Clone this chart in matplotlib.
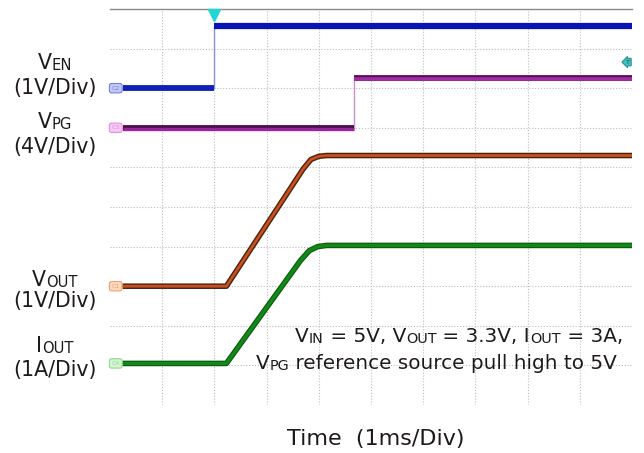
import numpy as np
import matplotlib
matplotlib.use('Agg')
import matplotlib.pyplot as plt
from matplotlib.transforms import IdentityTransform

# scope data (time in ms, trigger at 0)
en_t = [-1.76, 0.0, 0.0, 8.0]
en_v = [0.0, 0.0, 1.58, 1.58]
pg_t = [-1.76, 2.68, 2.68, 8.0]
pg_v = [0.0, 0.0, 5.0, 5.0]
vout_t = [-1.76, 0.23, 1.70, 1.85, 2.0, 2.15, 8.0]
vout_v = [0.0, 0.0, 2.96, 3.2, 3.28, 3.3, 3.3]
iout_t = [-1.76, 0.23, 1.65, 1.82, 1.98, 2.15, 8.0]
iout_v = [0.0, 0.0, 2.6, 2.85, 2.95, 2.98, 2.98]

# channel settings: volts (or amps) per div, ground position in div
en_scale, en_gnd = 1.0, 8.0
pg_scale, pg_gnd = 4.0, 7.0
vout_scale, vout_gnd = 1.0, 3.0
iout_scale, iout_gnd = 1.0, 1.05
trig_level = 0.66

TXT = '#1e1a1b'
W, H = 644, 453

fig = plt.figure(figsize=(W / 100, H / 100), dpi=100)
ax = fig.add_axes([110 / W, (H - 405) / H, 522 / W, 396 / H])
ax.set_xlim(-2, 8)
ax.set_ylim(0, 10)
ax.set_xticks(np.arange(-1, 8))
ax.set_yticks(np.arange(1, 10))
ax.tick_params(length=0, labelbottom=False, labelleft=False)
ax.grid(True, color='#bcbcbc', lw=0.8, ls=(0, (1, 1.6)))
for s in ['left', 'right', 'bottom']:
    ax.spines[s].set_visible(False)
ax.spines['top'].set_color('#8a8a8a')
ax.spines['top'].set_linewidth(1.0)


def div(v, scale, gnd):
    return gnd + np.array(v) / scale


# EN
y = div(en_v, en_scale, en_gnd)
ax.plot(en_t, y, color='#8890e8', lw=1.0)
ax.plot(en_t[:2], y[:2], color='#1020b8', lw=4.2, solid_capstyle='butt')
ax.plot(en_t[2:], y[2:], color='#0a14b4', lw=4.5, solid_capstyle='butt')

# PG
y = div(pg_v, pg_scale, pg_gnd)
ax.plot(pg_t, y, color='#c890d0', lw=1.0)
ax.plot(pg_t[:2], y[:2], color='#4a1048', lw=4.2, solid_capstyle='butt')
ax.plot(pg_t[:2], y[:2] - 0.03, color='#9a249a', lw=2.4, solid_capstyle='butt')
ax.plot(pg_t[2:], y[2:], color='#5a1058', lw=4.2, solid_capstyle='butt')
ax.plot(pg_t[2:], y[2:] - 0.03, color='#a42aa4', lw=2.6, solid_capstyle='butt')

# VOUT
y = div(vout_v, vout_scale, vout_gnd)
ax.plot(vout_t, y, color='#4a2410', lw=4.0, solid_capstyle='butt')
ax.plot(vout_t, y, color='#c8501e', lw=2.0, solid_capstyle='butt')

# IOUT
y = div(iout_v, iout_scale, iout_gnd)
ax.plot(iout_t, y, color='#0a5a0a', lw=4.0, solid_capstyle='butt')
ax.plot(iout_t, y, color='#13881a', lw=2.4, solid_capstyle='butt')

# ground reference tags
tags = [(en_gnd, '#c4c8f4', '#7080e0', 'C2'),
        (pg_gnd, '#f6c8f2', '#e090e0', 'C3'),
        (vout_gnd, '#fbd8c0', '#f0a070', 'C1'),
        (iout_gnd, '#d4f4d4', '#90d890', 'C4')]
for g, fc, ec, lab in tags:
    ax.text(-1.97, g, lab, fontsize=4.5, color=ec, ha='left', va='center',
            bbox=dict(boxstyle='round,pad=0.35', fc=fc, ec=ec, lw=0.8))

# trigger markers
ax.plot(0, 9.85, marker='v', color='#22d4d4', ms=9, clip_on=False, zorder=5)
ax.text(7.96, en_gnd + trig_level / en_scale, 'T', fontsize=4.5, color='#1a4a4a',
        ha='right', va='center',
        bbox=dict(boxstyle='larrow,pad=0.2', fc='#3cc4c4', ec='#2a9090', lw=0.8))

renderer = fig.canvas.get_renderer()


def label(parts, x, ytop, size, ha='left'):
    # parts: (text, is_subscript); x in px, ytop = baseline px from top
    items = []
    total = 0
    for s, sub in parts:
        t = fig.text(0, 0, s, fontsize=size * (0.72 if sub else 1.0), color=TXT,
                     transform=IdentityTransform(), va='baseline', ha='left')
        w = t.get_window_extent(renderer).width
        items.append((t, w, sub))
        total += w
    if ha == 'center':
        x0 = x - total / 2
    elif ha == 'right':
        x0 = x - total
    else:
        x0 = x
    for t, w, sub in items:
        t.set_position((x0, H - ytop - (1 if sub else 0)))
        x0 += w


fs = 14.8
label([('V', 0), ('EN', 1)], 55, 69, fs, 'center')
label([('(1V/Div)', 0)], 55, 94, fs, 'center')
label([('V', 0), ('PG', 1)], 55, 128, fs, 'center')
label([('(4V/Div)', 0)], 55, 153, fs, 'center')
label([('V', 0), ('OUT', 1)], 55, 286, fs, 'center')
label([('(1V/Div)', 0)], 55, 307, fs, 'center')
label([('I', 0), ('OUT', 1)], 55, 352, fs, 'center')
label([('(1A/Div)', 0)], 55, 376, fs, 'center')

label([('V', 0), ('IN', 1), (' = 5V, V', 0), ('OUT', 1), (' = 3.3V, I', 0),
       ('OUT', 1), (' = 3A,', 0)], 623, 342, 14.4, 'right')
label([('V', 0), ('PG', 1), (' reference source pull high to 5V', 0)],
      617, 369, 14.4, 'right')

label([('Time  (1ms/Div)', 0)], 376, 445, 16, 'center')

fig.savefig('out.png', dpi=100)
